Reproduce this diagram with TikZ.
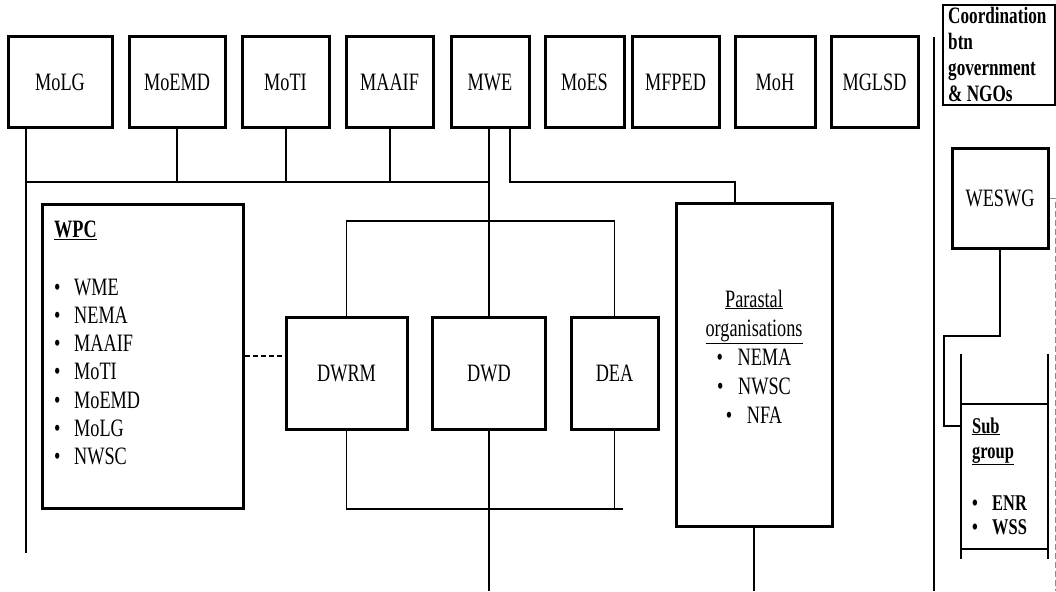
\documentclass[tikz,border=0pt]{standalone}
\usepackage{fontspec}
\setmainfont{Liberation Serif}[FakeStretch=0.73]
\newcommand\mfs{\fontsize{25}{28}\selectfont}
\newcommand\cfs{\fontsize{23.5}{26}\selectfont\bfseries}
\newcommand\sfs{\fontsize{22.5}{25}\selectfont\bfseries}
\tikzset{
  box/.style={draw, line width=3pt, inner sep=0pt, fill=white, font=\mfs, text height=16.5pt, text depth=0pt},
  topbox/.style={box, minimum height=90pt},
  conn/.style={line width=1.3pt},
  dashconn/.style={line width=1.5pt, dash pattern=on 5pt off 3pt},
  gdash/.style={line width=1pt, draw=black!45, dash pattern=on 6pt off 3pt},
  txt/.style={inner sep=0pt, font=\mfs},
  ctxt/.style={inner sep=0pt, font=\cfs, anchor=base west},
  stxt/.style={inner sep=0pt, font=\sfs, anchor=base west},
}
\begin{document}
\begin{tikzpicture}[x=1pt,y=-1pt]
\useasboundingbox (0,0) rectangle (1056,591);

% top row of ministries
\node[topbox, minimum width=104pt] (molg)  at (60,82)    {MoLG};
\node[topbox, minimum width=96pt]  (moemd) at (177,82)   {MoEMD};
\node[topbox, minimum width=87pt]  (moti)  at (285.5,82) {MoTI};
\node[topbox, minimum width=87pt]  (maaif) at (389.5,82) {MAAIF};
\node[topbox, minimum width=78pt]  (mwe)   at (490,82)   {MWE};
\node[topbox, minimum width=79pt]  (moes)  at (584.5,82) {MoES};
\node[topbox, minimum width=87pt]  (mfped) at (675.5,82) {MFPED};
\node[topbox, minimum width=80pt]  (moh)   at (775,82)   {MoH};
\node[topbox, minimum width=87pt]  (mglsd) at (874.5,82) {MGLSD};

% WPC box
\node[box, minimum width=201pt, minimum height=304pt] (wpc) at (142.5,356) {};
\node[txt, anchor=base west, font=\mfs\bfseries] (wpctitle) at (54,237) {\underline{WPC}};
\foreach \t [count=\i] in {WME,NEMA,MAAIF,MoTI,MoEMD,MoLG,NWSC}
  \node[txt, anchor=base west] (wpc\i) at (54,{295+28.3*(\i-1)}) {\makebox[20pt][l]{\textbullet}\t};

% departments
\node[box, minimum width=121pt, minimum height=112pt] (dwrm) at (346.5,373) {DWRM};
\node[box, minimum width=113pt, minimum height=112pt] (dwd)  at (489,373)   {DWD};
\node[box, minimum width=87pt,  minimum height=112pt] (dea)  at (614.5,373) {DEA};

% parastatal
\node[box, minimum width=156pt, minimum height=323pt] (para) at (754,364.5) {};
\node[txt, anchor=base] (p1) at (754,307) {\underline{Parastal}};
\node[txt, anchor=base] (p2) at (754,336) {\underline{organisations}};
\node[txt, anchor=base] (p3) at (754,365) {\makebox[21pt][l]{\textbullet}NEMA};
\node[txt, anchor=base] (p4) at (754,394) {\makebox[21pt][l]{\textbullet}NWSC};
\node[txt, anchor=base] (p5) at (754,423) {\makebox[21pt][l]{\textbullet}NFA};

% right column
\node[draw, line width=1.5pt, inner sep=0pt, minimum width=112pt, minimum height=100pt] (coord) at (999,55) {};
\node[ctxt] (c1) at (948,24)  {Coordination};
\node[ctxt] (c2) at (948,50)  {btn};
\node[ctxt] (c3) at (948,76)  {government};
\node[ctxt] (c4) at (948,102) {\& NGOs};

\node[box, minimum width=96pt, minimum height=100pt] (weswg) at (1000,198) {WESWG};

\node[inner sep=0pt, minimum width=87pt, minimum height=145pt] (sub) at (1004.5,476.5) {};
\draw[line width=1.6pt] ([yshift=50pt]sub.north west) -- ([yshift=-10pt]sub.south west);
\draw[line width=1.6pt] ([yshift=50pt]sub.north east) -- ([yshift=-10pt]sub.south east);
\draw[line width=1.6pt] (sub.north west) -- (sub.north east);
\draw[line width=1.6pt] (sub.south west) -- (sub.south east);
\node[stxt] (s1) at (972,433) {\underline{Sub}};
\node[stxt] (s2) at (972,458) {\underline{group}};
\node[stxt] (s3) at (972,510) {\makebox[20pt][l]{\textbullet}ENR};
\node[stxt] (s4) at (972,534) {\makebox[20pt][l]{\textbullet}WSS};

% coordinates
\coordinate (busL) at (26,182);
\coordinate (busR) at (489,182);
\coordinate (molgEnd) at (26,553);
\coordinate (mweEnd) at (489,591);
\coordinate (mwe2) at (510,182);
\coordinate (paraIn) at (735,0);
\coordinate (paraEnd) at (754,591);
\coordinate (brTop) at (0,221);
\coordinate (brBot) at (0,509);
\coordinate (brBotEnd) at (623,509);
\coordinate (sepTop) at (934,37);
\coordinate (sepBot) at (934,591);
\coordinate (dTop) at (1055,198);
\coordinate (dBot) at (1055,591);
\coordinate (w1) at (944,336);
\coordinate (w2) at (0,426);

% connectors
\draw[conn] (molg.south -| busL) -- (molgEnd);
\draw[conn] (busL) -- (busR);
\draw[conn] (moemd.south) -- (moemd.south |- busL);
\draw[conn] (moti.south -| 286,0) -- (286,182);
\draw[conn] (maaif.south -| 390,0) -- (390,182);
\draw[conn] (mwe.south -| busR) -- (dwd.north);
\draw[conn] (dwd.south) -- (mweEnd);
\draw[conn] (mwe.south -| mwe2) -- (mwe2) -| (para.north -| paraIn);
\draw[conn] (dwrm.north) -- (dwrm.north |- brTop) -- (dea.north |- brTop) -- (dea.north);
\draw[conn] (dwrm.south) -- (dwrm.south |- brBot) -- (brBotEnd);
\draw[conn] (dea.south) -- (dea.south |- brBot);
\draw[conn] (para.south) -- (paraEnd);
\draw[dashconn] (wpc.east) -- (dwrm.west |- wpc.east);
\draw[conn] (sepTop) -- (sepBot);
\draw[gdash] (weswg.east) -- (dTop) -- (dBot);
\draw[conn] (weswg.south) |- (w1) |- (sub.west |- w2);
\end{tikzpicture}
\end{document}
